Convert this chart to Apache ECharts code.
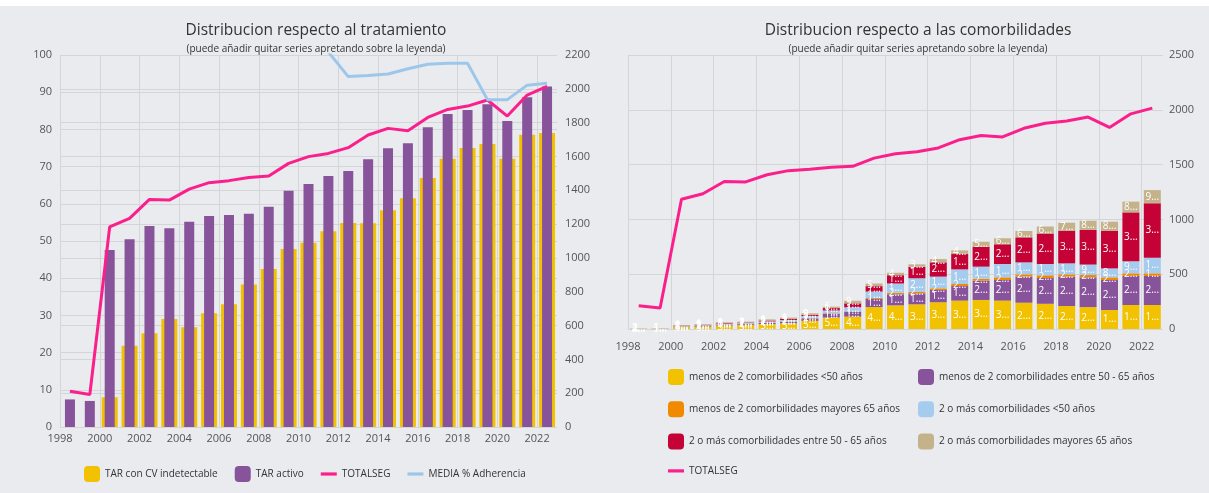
<!DOCTYPE html>
<html lang="es">
<head>
<meta charset="UTF-8">
<title>Distribucion</title>
<script src="https://cdn.jsdelivr.net/npm/echarts@6/dist/echarts.min.js"></script>
<style>
  html, body { margin: 0; padding: 0; background: #fff; }
  #main { width: 1209px; height: 493px; }
</style>
</head>
<body>
<div id="main"></div>
<script>
  // años
  var years = ['1998', '1999', '2000', '2001', '2002', '2003', '2004', '2005', '2006', '2007', '2008', '2009',
    '2010', '2011', '2012', '2013', '2014', '2015', '2016', '2017', '2018', '2019', '2020', '2021', '2022'];

  // grafico 1: tratamiento
  var tarIndetectable = [0, 0, 176, 480, 555, 638, 590, 672, 726, 843, 934, 1052, 1089, 1158, 1206, 1205,
    1282, 1353, 1473, 1587, 1650, 1673, 1587, 1728, 1739];
  var tarActivo = [163, 154, 1047, 1110, 1189, 1175, 1214, 1248, 1254, 1261, 1303, 1397, 1437, 1485, 1514,
    1583, 1648, 1678, 1772, 1851, 1875, 1908, 1810, 1950, 2013];
  var totalSeg = [212, 192, 1184, 1234, 1346, 1342, 1407, 1445, 1457, 1476, 1484, 1559, 1599, 1618, 1652,
    1727, 1766, 1752, 1831, 1878, 1898, 1934, 1839, 1963, 2015];
  var mediaAdherencia = [null, null, null, null, null, null, null, null, null, null, null, null,
    110, 100.8, 94.2, 94.5, 94.9, 96.3, 97.5, 97.8, 97.8, 88.0, 88.0, 91.9, 92.4];

  // grafico 2: comorbilidades
  var menos2Menor50 = [2, 3, 18, 22, 32, 35, 45, 52, 74, 105, 113, 200, 216, 225, 244, 259, 265, 259, 240,
    230, 210, 200, 173, 219, 219];
  var menos2Entre50y65 = [1, 1, 5, 6, 8, 9, 12, 15, 22, 35, 45, 75, 100, 100, 112, 133, 176, 188, 238, 235,
    268, 271, 274, 265, 265];
  var menos2Mayor65 = [0, 0, 1, 1, 2, 2, 2, 3, 3, 4, 3, 8, 14, 16, 15, 19, 18, 24, 21, 25, 21, 22, 24, 24, 24];
  var mas2Menor50 = [1, 1, 5, 5, 7, 8, 10, 12, 18, 25, 37, 58, 85, 122, 107, 133, 110, 122, 109, 103, 100,
    95, 82, 110, 143];
  var mas2Entre50y65 = [0, 0, 3, 4, 5, 5, 8, 10, 12, 22, 36, 50, 76, 105, 130, 140, 182, 180, 228, 278, 298,
    316, 344, 446, 496];
  var mas2Mayor65 = [1, 1, 4, 5, 7, 8, 11, 12, 14, 13, 24, 24, 22, 22, 30, 33, 45, 55, 58, 64, 73, 84, 82,
    98, 120];

  var comorbNames = [
    'menos de 2 comorbilidades <50 años',
    'menos de 2 comorbilidades entre 50 - 65 años',
    'menos de 2 comorbilidades mayores 65 años',
    '2 o más comorbilidades <50 años',
    '2 o más comorbilidades entre 50 - 65 años',
    '2 o más comorbilidades mayores 65 años'
  ];
  var comorbData = [menos2Menor50, menos2Entre50y65, menos2Mayor65, mas2Menor50, mas2Entre50y65, mas2Mayor65];
  var comorbColors = ['#f2c200', '#87539a', '#f08a00', '#a5cbee', '#c40235', '#c3b28a'];

  // total de cada año para el porcentaje de la etiqueta
  var totals = years.map(function (y, i) {
    return comorbData.reduce(function (s, arr) { return s + arr[i]; }, 0);
  });

  var font = 'Open Sans';
  var gridColor = '#d3d5d9';
  var labelColor = '#555';
  // icono de linea para la leyenda
  var lineIcon = 'path://M0,0L20,0L20,4L0,4Z';

  function plain(v) { return String(v); }

  function yearAxis(grid) {
    return {
      type: 'value', gridIndex: grid, min: 1998, max: 2023, interval: 2,
      axisLine: { show: false }, axisTick: { show: false },
      axisLabel: {
        color: labelColor, fontSize: 11, fontFamily: font, margin: grid === 0 ? 6 : 12,
        showMaxLabel: false, formatter: plain
      },
      splitLine: { show: true, showMaxLine: false, lineStyle: { color: gridColor } }
    };
  }

  function valueAxis(grid, pos, max, step, margin) {
    return {
      type: 'value', gridIndex: grid, position: pos, min: 0, max: max, interval: step,
      axisLine: { show: false }, axisTick: { show: false },
      axisLabel: { color: labelColor, fontSize: 11, fontFamily: font, margin: margin, formatter: plain },
      splitLine: { lineStyle: { color: gridColor } }
    };
  }

  var chart = echarts.init(document.getElementById('main'));

  var stackSeries = comorbNames.map(function (name, k) {
    return {
      name: name,
      type: 'bar',
      stack: 'comorb',
      xAxisIndex: 4,
      yAxisIndex: 2,
      barWidth: 17,
      itemStyle: { color: comorbColors[k] },
      label: {
        show: true,
        position: 'inside',
        color: '#fff',
        fontSize: 10,
        fontFamily: font,
        width: 15,
        overflow: 'truncate',
        ellipsis: '...',
        formatter: function (p) {
          if (!p.value) return '';
          return (p.value / totals[p.dataIndex] * 100).toFixed(2) + '%';
        }
      },
      data: comorbData[k]
    };
  });

  var legendText = { fontSize: 10, color: '#333', fontFamily: font };

  var option = {
    backgroundColor: '#eaebee',
    animation: false,
    textStyle: { fontFamily: font },
    graphic: [{
      type: 'rect', left: 0, top: 0, shape: { width: 1209, height: 6 },
      style: { fill: '#ffffff' }, silent: true
    }],
    title: [{
      text: 'Distribucion respecto al tratamiento',
      subtext: '(puede añadir quitar series apretando sobre la leyenda)',
      left: 311, top: 18, textAlign: 'center', itemGap: 5,
      textStyle: { fontSize: 15.5, fontWeight: 'normal', color: '#333', fontFamily: font },
      subtextStyle: { fontSize: 10, color: '#333', fontFamily: font }
    }, {
      text: 'Distribucion respecto a las comorbilidades',
      subtext: '(puede añadir quitar series apretando sobre la leyenda)',
      left: 913, top: 18, textAlign: 'center', itemGap: 5,
      textStyle: { fontSize: 15.5, fontWeight: 'normal', color: '#333', fontFamily: font },
      subtextStyle: { fontSize: 10, color: '#333', fontFamily: font }
    }],
    legend: [{
      left: 79, top: 461, itemWidth: 16, itemHeight: 16, itemGap: 17,
      textStyle: legendText,
      data: ['TAR con CV indetectable', 'TAR activo',
        { name: 'TOTALSEG', icon: lineIcon }, { name: 'MEDIA % Adherencia', icon: lineIcon }]
    }, {
      left: 663, top: 364, orient: 'vertical', itemWidth: 16, itemHeight: 16, itemGap: 16.3,
      textStyle: legendText,
      data: [comorbNames[0], comorbNames[2], comorbNames[4], { name: 'TOTALSEG', icon: lineIcon }]
    }, {
      left: 913, top: 364, orient: 'vertical', itemWidth: 16, itemHeight: 16, itemGap: 16.3,
      textStyle: legendText,
      data: [comorbNames[1], comorbNames[3], comorbNames[5]]
    }],
    grid: [
      { left: 60, top: 55, width: 497, height: 372, outerBoundsMode: 'none' },
      { left: 628, top: 55, width: 535, height: 274, outerBoundsMode: 'none' }
    ],
    xAxis: [
      yearAxis(0),
      { type: 'category', gridIndex: 0, data: years, show: false },
      { type: 'category', gridIndex: 0, data: years, show: false },
      yearAxis(1),
      { type: 'category', gridIndex: 1, data: years, show: false }
    ],
    yAxis: [
      valueAxis(0, 'left', 100, 10, 8),
      valueAxis(0, 'right', 2200, 200, 8),
      valueAxis(1, 'right', 2500, 500, 6)
    ],
    series: [{
      name: 'TAR con CV indetectable',
      type: 'bar', xAxisIndex: 1, yAxisIndex: 1, barWidth: 16,
      itemStyle: { color: '#f2c200' },
      data: tarIndetectable
    }, {
      name: 'TAR activo',
      type: 'bar', xAxisIndex: 2, yAxisIndex: 1, barWidth: 10,
      itemStyle: { color: '#87539a' },
      data: tarActivo
    }, {
      name: 'TOTALSEG',
      type: 'line', xAxisIndex: 2, yAxisIndex: 1, symbol: 'none',
      lineStyle: { color: '#fb1f8c', width: 3 }, itemStyle: { color: '#fb1f8c' },
      data: totalSeg
    }, {
      name: 'MEDIA % Adherencia',
      type: 'line', xAxisIndex: 2, yAxisIndex: 0, symbol: 'none',
      lineStyle: { color: '#9dc7ea', width: 3 }, itemStyle: { color: '#9dc7ea' },
      data: mediaAdherencia
    }].concat(stackSeries).concat([{
      name: 'TOTALSEG',
      type: 'line', xAxisIndex: 4, yAxisIndex: 2, symbol: 'none',
      lineStyle: { color: '#fb1f8c', width: 3 }, itemStyle: { color: '#fb1f8c' },
      data: totalSeg
    }])
  };

  chart.setOption(option);
</script>
</body>
</html>
